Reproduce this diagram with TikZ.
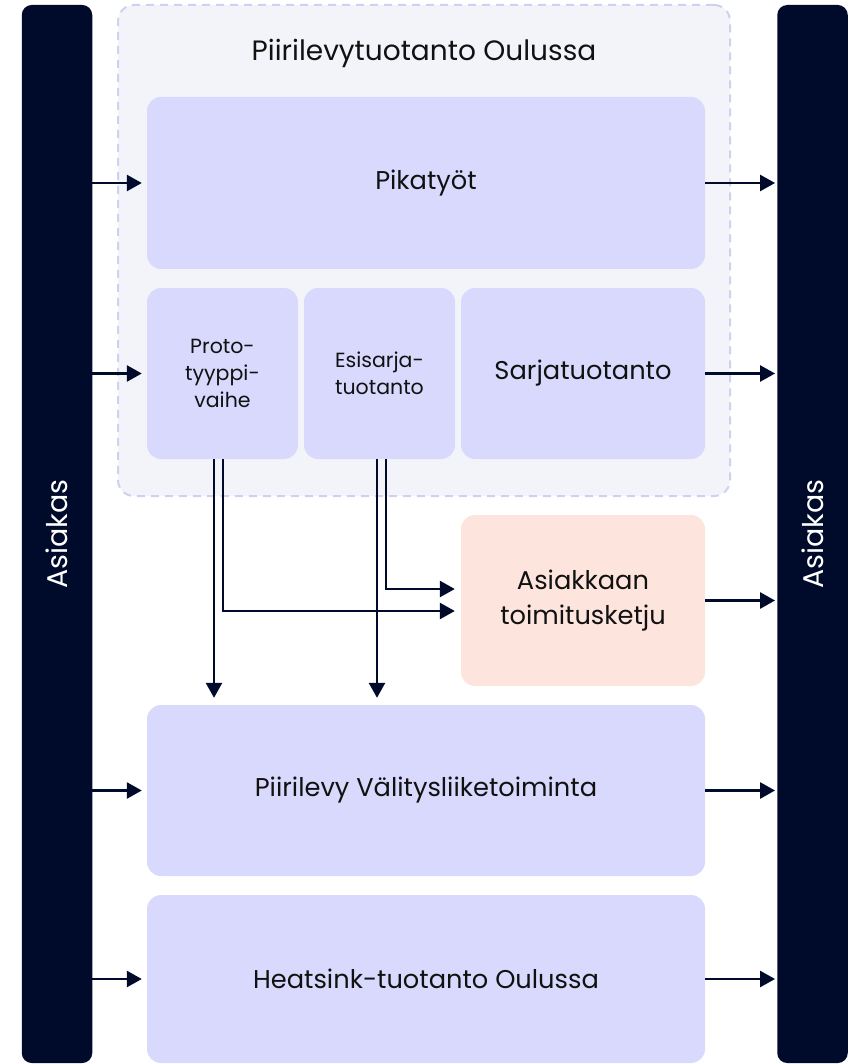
\documentclass[tikz,border=0pt]{standalone}
\usepackage{fontspec}
\setmainfont{Poppins}
\usetikzlibrary{arrows.meta, positioning}
\definecolor{navy}{HTML}{000A2B}
\definecolor{lila}{HTML}{D9D9FD}
\definecolor{pale}{HTML}{F3F4FA}
\definecolor{dashc}{HTML}{CED1F0}
\definecolor{peach}{HTML}{FDE4DD}
\definecolor{ink}{HTML}{111111}
\tikzset{bar/.style={fill=navy,rounded corners=10pt,minimum width=70.5pt,minimum height=1058pt},
         unit/.style={fill=lila,rounded corners=14pt,text=ink,align=center,font=\fontsize{25.7}{35}\selectfont},
         small/.style={unit,font=\fontsize{20.5}{27}\selectfont},
         flow/.style={-{Triangle[length=15pt,width=16pt]},line width=2.6pt,draw=navy}}

\begin{document}
\begin{tikzpicture}[x=1pt,y=-1pt]
        \useasboundingbox (0,0) rectangle (858,1064);
        % customer bars
        \node[bar, label={[rotate=90,text=white,font=\fontsize{28.5}{30}\selectfont]center:Asiakas}](asiL)at(57,534){};
        \node[bar, label={[rotate=90,text=white,font=\fontsize{28.5}{30}\selectfont]center:Asiakas}](asiR)at(812.5,534){};

        % production in Oulu
        \node[fill=pale, draw=dashc, line width=2pt, dash pattern=on 8pt off 6pt, rounded corners=16pt,
              minimum width=612pt, minimum height=491pt](grp)at(424,250.5){};
        \node[text=ink, font=\fontsize{28}{30}\selectfont](title)at(424,53){Piirilevytuotanto Oulussa};

        \node[unit, minimum width=558pt, minimum height=172pt](pika)at(426,183){Pikatyöt};
        \node[small, minimum width=151pt, minimum height=171pt](proto)at(222.5,373.5){Proto-\\tyyppi-\\vaihe};
        \node[small, minimum width=151pt, minimum height=171pt](esis)at(379.5,373.5){Esisarja-\\tuotanto};
        \node[unit, minimum width=244pt, minimum height=171pt](sarja)at(583,373.5){Sarjatuotanto};

        \node[unit, fill=peach, minimum width=244pt, minimum height=171pt](toim)at(583,600.5){Asiakkaan\\toimitusketju};
        \node[unit, minimum width=558pt, minimum height=171pt](valit)at(426,790.5){Piirilevy Välitysliiketoiminta};
        \node[unit, minimum width=558pt, minimum height=168pt](heat)at(426,979){Heatsink-tuotanto Oulussa};

        % in from customer
        \draw[flow, shorten >=5pt](asiL.east |- pika.west)--(pika.west);
        \draw[flow, shorten >=5pt](asiL.east |- proto.west)--(proto.west);
        \draw[flow, shorten >=5pt](asiL.east |- valit.west)--(valit.west);
        \draw[flow, shorten >=5pt](asiL.east |- heat.west)--(heat.west);

        % out to customer
        \draw[flow, shorten >=2pt](pika.east)--(pika.east -| asiR.west);
        \draw[flow, shorten >=2pt](sarja.east)--(sarja.east -| asiR.west);
        \draw[flow, shorten >=2pt](toim.east)--(toim.east -| asiR.west);
        \draw[flow, shorten >=2pt](valit.east)--(valit.east -| asiR.west);
        \draw[flow, shorten >=2pt](heat.east)--(heat.east -| asiR.west);

        % from prototypes and pre-series
        \draw[flow, shorten >=7pt]([xshift=-8.5pt]proto.south)--([xshift=-8.5pt]proto.south |- valit.north);
        \draw[flow, shorten >=6pt]([xshift=0.5pt]proto.south)|-([yshift=-10.5pt]toim.west);
        \draw[flow, shorten >=7pt]([xshift=-2.5pt]esis.south)--([xshift=-2.5pt]esis.south |- valit.north);
        \draw[flow, shorten >=6pt]([xshift=6.5pt]esis.south)|-([yshift=11.5pt]toim.west);
    \end{tikzpicture}
\end{document}
